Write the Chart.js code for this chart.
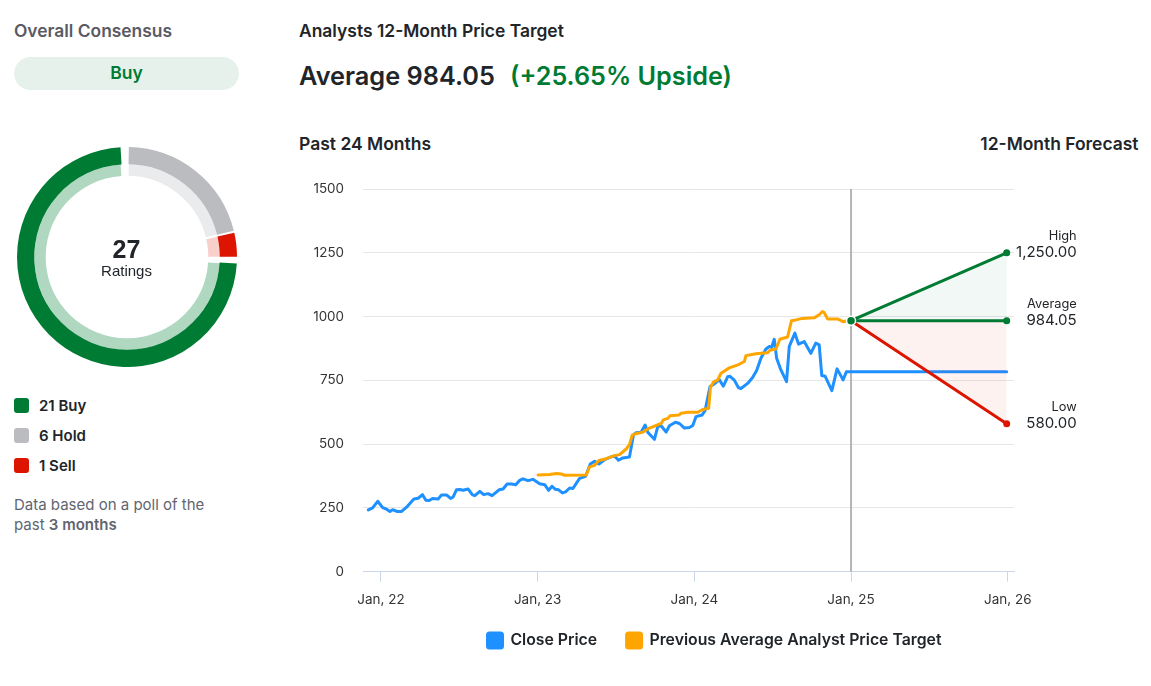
<!DOCTYPE html>
<html><head><meta charset="utf-8">
<script src="https://cdn.jsdelivr.net/npm/chart.js@4"></script>
<style>
html,body{margin:0;padding:0;background:#fff;width:1151px;height:686px;overflow:hidden;font-family:Inter,sans-serif;color:#212529}
.t{position:absolute;white-space:nowrap;line-height:20px}
.sq{position:absolute;left:14px;width:15px;height:15px;border-radius:3px}
canvas{display:block}
.cw{position:absolute}
</style></head><body>
<div class="t" style="left:14px;top:21px;font-size:17.4px;font-weight:600;color:#5a5a64">Overall Consensus</div>
<div class="t" style="left:14px;top:57px;width:225px;height:33px;line-height:32px;border-radius:17px;background:#e6f1ec;color:#007b33;text-align:center;font-size:17.5px;font-weight:600">Buy</div>
<div class="t" style="left:299px;top:21px;font-size:17.45px;font-weight:600">Analysts 12-Month Price Target</div>
<div class="t" style="left:299px;top:62px;line-height:28px;font-size:25.3px;font-weight:600">Average 984.05</div>
<div class="t" style="left:510px;top:62px;line-height:28px;font-size:25.2px;font-weight:600;color:#007b33">(+25.65% Upside)</div>
<div class="t" style="left:299px;top:134px;font-size:17.5px;font-weight:600">Past 24 Months</div>
<div class="t" style="right:12.5px;top:134px;font-size:17.45px;font-weight:600">12-Month Forecast</div>

<div class="cw" style="left:16.7px;top:147px;width:220px;height:220px"><canvas id="donut" width="220" height="220"></canvas></div>
<div class="t" style="left:26px;width:201px;top:236px;line-height:26px;text-align:center;font-family:'Liberation Sans';font-size:25px;font-weight:700">27</div>
<div class="t" style="left:26px;width:201px;top:261px;text-align:center;font-family:'Liberation Sans';font-size:15px">Ratings</div>

<div class="sq" style="top:398px;background:#007b33"></div><div class="t" style="left:39px;top:396px;font-size:15px;font-weight:600">21 Buy</div>
<div class="sq" style="top:428px;background:#bbbcbf"></div><div class="t" style="left:39px;top:426px;font-size:15px;font-weight:600">6 Hold</div>
<div class="sq" style="top:458px;background:#dc1400"></div><div class="t" style="left:39px;top:456px;font-size:15px;font-weight:600">1 Sell</div>
<div class="t" style="left:14px;top:495px;font-size:15px;color:#5f6570">Data based on a poll of the</div>
<div class="t" style="left:14px;top:515px;font-size:15px;color:#5f6570">past <b style="font-weight:600">3 months</b></div>

<div class="cw" style="left:290px;top:161.5px;width:849px;height:496.5px"><canvas id="main"></canvas></div>
<script>
// x values are months since Jan 2022
const tickMonths=[0,12,24,36,48];
const tickLabels=['Jan, 22','Jan, 23','Jan, 24','Jan, 25','Jan, 26'];
const yTicks=[0,250,500,750,1000,1250,1500];
const closeMonths=[-0.97,-0.64,-0.25,0.13,0.43,0.69,0.89,1.25,1.58,1.96,2.52,2.85,3.18,3.44,3.69,3.95,4.38,4.64,5.02,5.33,5.53,5.78,6.04,6.29,6.68,7.01,7.19,7.57,7.87,8.20,8.51,9.04,9.35,9.66,9.99,10.32,10.62,10.88,11.26,11.64,12.15,12.54,12.84,13.10,13.35,13.60,13.89,14.14,14.45,14.70,15.21,15.67,16.03,16.36,16.69,17.12,17.63,17.89,18.19,18.52,19.03,19.34,19.54,19.92,20.23,20.43,20.94,21.20,21.46,21.84,22.09,22.55,22.86,23.24,23.62,23.88,24.13,24.59,24.82,25.20,25.53,25.91,26.22,26.55,26.73,27.06,27.37,27.57,28.08,28.46,28.77,29.10,29.48,29.74,29.91,30.12,30.30,30.63,31.06,31.27,31.70,31.98,32.41,32.92,33.30,33.56,33.76,34.02,34.53,34.93,35.39,35.65,47.92];
const closeValues=[242,250,276,251,245,236,243,236,236,253,285,288,302,280,279,287,285,301,301,287,293,321,322,319,324,301,298,315,302,306,298,321,324,344,344,341,358,364,357,362,345,341,319,335,323,321,309,313,328,326,366,374,422,433,422,439,450,454,437,446,450,537,545,547,575,547,519,569,572,547,572,586,581,563,565,573,608,614,631,726,736,753,727,764,766,751,722,718,738,761,789,837,873,883,879,911,837,791,745,883,935,892,902,856,896,889,769,766,710,795,752,784,784];
const targetMonths=[12.03,12.92,13.43,13.81,14.06,15.72,15.98,16.36,16.69,17.25,17.89,18.27,18.78,19.03,19.24,19.54,20.05,20.56,21.46,21.63,21.97,22.14,22.81,22.98,23.49,24.26,24.64,25.10,25.23,25.46,25.79,26.04,26.68,27.44,27.83,27.95,28.72,29.61,29.79,30.25,30.55,31.14,31.44,31.77,32.28,33.18,33.56,33.81,33.94,34.20,34.96,35.39,35.70];
const targetValues=[379,381,385,383,378,379,411,417,436,443,455,459,481,498,535,541,547,563,581,595,601,611,614,621,625,625,636,641,723,743,752,778,799,813,824,847,854,858,868,873,911,920,984,987,993,995,1007,1020,1016,991,991,980,984];
const forecastMonths=[36,47.92];
const forecastStart=984.05;
const forecastHigh=1250, forecastAvg=984.05, forecastLow=580;
const forecastLabels=['High','Average','Low'];
const forecastTexts=['1,250.00','984.05','580.00'];
const ratingLabels=['Hold','Sell','Buy'];
const ratingValues=[6,1,21];

const pairs=(xs,ys)=>xs.map((x,i)=>({x,y:ys[i]}));
const GREEN='#007b33',RED='#dc1400',BLUE='#1e90ff',ORANGE='#ffa500';
const FF='Inter, sans-serif';

new Chart(document.getElementById('donut'),{type:'doughnut',
 data:{labels:ratingLabels,datasets:[
  {data:ratingValues,backgroundColor:['#bbbcbf',RED,GREEN],borderWidth:0,spacing:5,weight:17.7},
  {data:ratingValues,backgroundColor:['#eaebec','#f8cfcb','#b0d7c0'],borderWidth:0,spacing:5,weight:11.7}]},
 options:{responsive:false,animation:false,cutout:'73.3%',plugins:{legend:{display:false},tooltip:{enabled:false}}}});

const forecastText={id:'forecastText',afterDatasetsDraw(c){
 const ctx=c.ctx,x=c.scales.x,y=c.scales.y;
 const vals=[forecastHigh,forecastAvg,forecastLow];
 ctx.save();ctx.textAlign='right';ctx.textBaseline='middle';ctx.fillStyle='#212529';
 vals.forEach((v,i)=>{
  const px=x.getPixelForValue(forecastMonths[1])+70,py=y.getPixelForValue(v);
  ctx.font='12.8px '+FF;ctx.fillText(forecastLabels[i],px,py-17);
  ctx.font='15px '+FF;ctx.fillText(forecastTexts[i],px,py);
 });ctx.restore();}};

const noLegend=new Set(['High','Average','Low','Divider']);
new Chart(document.getElementById('main'),{type:'line',plugins:[forecastText],
 data:{datasets:[
  {label:'Average',data:pairs(forecastMonths,[forecastStart,forecastAvg]),borderColor:GREEN,backgroundColor:GREEN,borderWidth:3,pointRadius:[4.5,3.5],pointBorderColor:['#fff',GREEN],pointBorderWidth:[1.5,0],fill:false,order:1},
  {label:'High',data:pairs(forecastMonths,[forecastStart,forecastHigh]),borderColor:GREEN,backgroundColor:GREEN,borderWidth:3,pointRadius:[0,3.5],pointBorderWidth:0,fill:{target:0,above:'rgba(0,123,51,0.05)',below:'rgba(0,123,51,0.05)'},order:2},
  {label:'Low',data:pairs(forecastMonths,[forecastStart,forecastLow]),borderColor:RED,backgroundColor:RED,borderWidth:3,pointRadius:[0,3.5],pointBorderWidth:0,fill:{target:0,above:'rgba(240,20,0,0.055)',below:'rgba(240,20,0,0.055)'},order:3},
  {label:'Previous Average Analyst Price Target',data:pairs(targetMonths,targetValues),borderColor:ORANGE,backgroundColor:ORANGE,borderWidth:3,pointRadius:0,fill:false,order:4},
  {label:'Close Price',data:pairs(closeMonths,closeValues),borderColor:BLUE,backgroundColor:BLUE,borderWidth:3,pointRadius:0,fill:false,order:5},
  {label:'Divider',data:pairs([36,36],[0,1500]),borderColor:'#b5b5b5',borderWidth:2,pointRadius:0,fill:false,order:6}
 ]},
 options:{responsive:true,maintainAspectRatio:false,animation:false,
  layout:{padding:{top:11,left:0,right:0,bottom:0}},
  elements:{line:{tension:0,borderJoinStyle:'round',borderCapStyle:'round'}},
  scales:{
   x:{type:'linear',min:-1.376,max:48.48,
    afterBuildTicks:s=>{s.ticks=tickMonths.map(v=>({value:v}));},
    afterFit:s=>{s.height=31.5;s._computeLabelArea=()=>undefined;},
    ticks:{autoSkip:false,maxRotation:0,padding:10,color:'#333',font:{family:FF,size:13.5},callback:v=>tickLabels[tickMonths.indexOf(v)]},
    grid:{display:true,drawOnChartArea:false,drawTicks:true,tickLength:10,tickColor:'#ccd6eb',color:'#ccd6eb'},
    border:{display:true,color:'#ccd6eb',width:1}},
   y:{type:'linear',position:'left',min:0,max:1500,
    afterBuildTicks:s=>{s.ticks=yTicks.map(v=>({value:v}));},
    afterFit:s=>{s.width=73;},
    ticks:{padding:19,color:'#333',font:{family:FF,size:13.4},callback:v=>String(v)},
    grid:{color:'#e6e6e6',lineWidth:1,drawTicks:false},
    border:{display:false}},
   yRight:{type:'linear',position:'right',display:true,min:0,max:1500,
    afterFit:s=>{s.width=125;},
    ticks:{display:false},grid:{display:false,drawTicks:false},border:{display:false}}
  },
  plugins:{tooltip:{enabled:false},
   legend:{position:'bottom',reverse:true,
    labels:{filter:i=>!noLegend.has(i.text),boxWidth:15,boxHeight:15,padding:29.5,useBorderRadius:true,borderRadius:2,color:'#212529',font:{family:FF,size:15.8,weight:'600'}}}}
 }});
</script>
</body></html>
